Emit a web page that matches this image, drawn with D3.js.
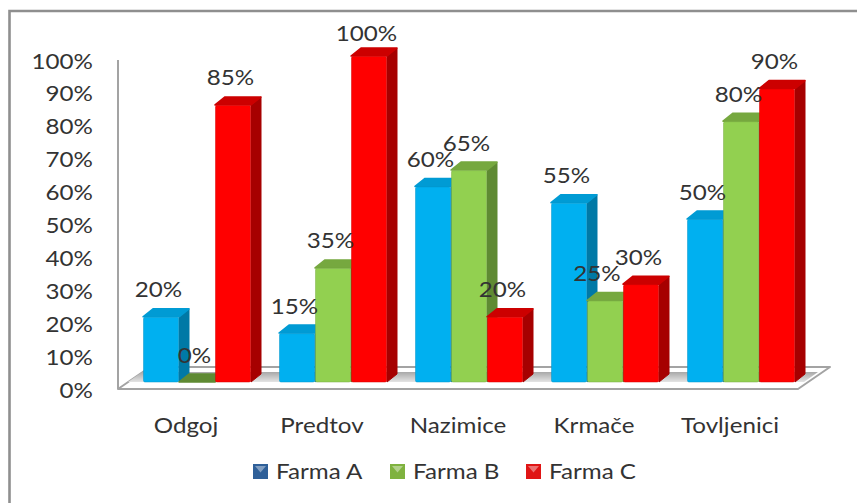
<!DOCTYPE html>
<html>
<head>
<meta charset="utf-8">
<script src="https://cdn.jsdelivr.net/npm/d3@7"></script>
<style>
html,body{margin:0;padding:0;background:#fff}
svg{display:block}
text{font-family:Lato,"Open Sans",sans-serif;fill:#333}
</style>
</head>
<body>
<svg id="chart" width="857" height="503"></svg>
<script>
const categories = ["Odgoj", "Predtov", "Nazimice", "Krmače", "Tovljenici"];
const seriesNames = ["Farma A", "Farma B", "Farma C"];
const farmaA = [20, 15, 60, 55, 50];
const farmaB = [0, 35, 65, 25, 80];
const farmaC = [85, 100, 20, 30, 90];
const yTicks = [0, 10, 20, 30, 40, 50, 60, 70, 80, 90, 100];

const frontColors = ["#00b0f0", "#92d050", "#ff0000"];
const sideColors = ["#0079a6", "#5f8a33", "#a60000"];
const topColors = ["#009bd4", "#76a83f", "#cc0000"];
const legendColors = ["#2f6099", "#7fb23f", "#e01515"];

const svg = d3.select("#chart");
const series = [farmaA, farmaB, farmaC];

// Oblique projection used for the 3D bars
const depthX = 10, depthY = -8;
// The chart lettering is a wide cut, so glyphs are stretched horizontally
const fontSize = 21.5;
const textStretch = 1.125;
const place = (px, py) => `translate(${px},${py}) scale(${textStretch},1)`;

const x0 = d3.scaleBand().domain(categories).range([129, 809]).paddingInner(28 / 136).paddingOuter(14 / 136);
const x1 = d3.scaleBand().domain(seriesNames).range([0, x0.bandwidth()]);
const y = d3.scaleLinear().domain([0, 100]).range([382, 56]);
const yLabel = d3.scaleLinear().domain([0, 100]).range([398, 68.5]);

// Frame: only the top and left rules are present
svg.append("path").attr("d", "M857,11H9.5V503").attr("fill", "none")
  .attr("stroke", "#8f8f8f").attr("stroke-width", 2.6);

// Floor slab
const defs = svg.append("defs");
const floorGrad = defs.append("linearGradient").attr("id", "floorFill").attr("x1", 0).attr("x2", 0).attr("y1", 0).attr("y2", 1);
floorGrad.append("stop").attr("offset", 0).attr("stop-color", "#a8a8a8");
floorGrad.append("stop").attr("offset", 1).attr("stop-color", "#e4e4e4");

svg.append("path")
  .attr("d", "M118,389L150,367H830L798,389Z")
  .attr("fill", "#fff").attr("stroke", "#a3a3a3").attr("stroke-width", 2).attr("stroke-linejoin", "round");
svg.append("path")
  .attr("d", "M128,382L142,372H818L804,382Z")
  .attr("fill", "url(#floorFill)");

// Vertical axis line
svg.append("line").attr("x1", 118).attr("x2", 118).attr("y1", 60).attr("y2", 389)
  .attr("stroke", "#a3a3a3").attr("stroke-width", 2);

// Y axis labels
svg.append("g").selectAll("text").data(yTicks).join("text")
  .attr("transform", d => place(93, yLabel(d))).attr("text-anchor", "end")
  .attr("font-size", fontSize).text(d => d + "%");

// Bars, drawn left to right so nearer faces overlap correctly
categories.forEach((cat, c) => {
  const g = svg.append("g");
  series.forEach((vals, s) => {
    const left = x0(cat) + x1(seriesNames[s]);
    const right = left + x1.bandwidth();
    const top = y(vals[c]);
    const base = y(0);
    const lid = vals[c] === 0 ? sideColors[s] : topColors[s];
    g.append("path")
      .attr("d", `M${right},${base}L${right + depthX},${base + depthY}L${right + depthX},${top + depthY}L${right},${top}Z`)
      .attr("fill", sideColors[s]).attr("stroke", sideColors[s]).attr("stroke-width", 1).attr("stroke-linejoin", "round");
    g.append("path")
      .attr("d", `M${left},${top}L${left + depthX},${top + depthY}L${right + depthX},${top + depthY}L${right},${top}Z`)
      .attr("fill", lid).attr("stroke", lid).attr("stroke-width", 1.5).attr("stroke-linejoin", "round");
    if (vals[c] > 0) {
      g.append("rect").attr("x", left + 0.5).attr("y", top + 0.5).attr("width", x1.bandwidth() - 1).attr("height", base - top - 0.5)
        .attr("rx", 1.5).attr("fill", frontColors[s])
        .attr("stroke", d3.color(frontColors[s]).darker(0.5)).attr("stroke-opacity", 0.5).attr("stroke-width", 1);
    }
  });
});

// Value labels sit above the front face, held inside the plot at the top
categories.forEach((cat, c) => {
  series.forEach((vals, s) => {
    const shift = vals[c] === 25 ? -8 : -2.5;
    svg.append("text")
      .attr("transform", place(x0(cat) + x1(seriesNames[s]) + x1.bandwidth() / 2 + shift, Math.max(y(vals[c]) - 19.5, 41)))
      .attr("text-anchor", "middle").attr("font-size", fontSize)
      .text(vals[c] + "%");
  });
});

// Category labels follow the front edge of the floor
svg.append("g").selectAll("text").data(categories).join("text")
  .attr("transform", d => place(x0(d) + x0.bandwidth() / 2 - 11, 433))
  .attr("text-anchor", "middle").attr("font-size", fontSize).text(d => d);

// Legend
const legendX = d3.scaleOrdinal().domain(seriesNames).range([253, 390, 526]);
const legend = svg.append("g").selectAll("g").data(seriesNames).join("g")
  .attr("transform", d => `translate(${legendX(d)},464)`);
legend.append("rect").attr("width", 15).attr("height", 15).attr("fill", (d, i) => legendColors[i]);
legend.append("path").attr("d", "M2,2H13L7.5,8.5Z").attr("fill", "#fff").attr("opacity", 0.4);
legend.append("text").attr("transform", place(23, 15)).attr("font-size", fontSize).text(d => d);
</script>
</body>
</html>
